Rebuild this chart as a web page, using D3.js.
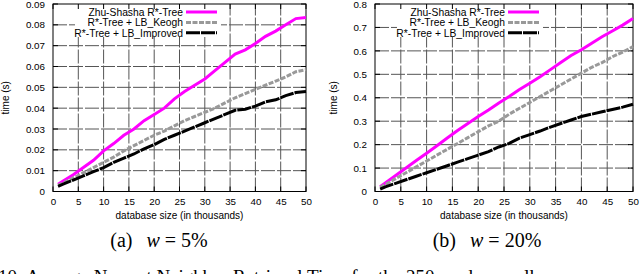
<!DOCTYPE html>
<html>
<head>
<meta charset="utf-8">
<script src="https://cdn.jsdelivr.net/npm/d3@7"></script>
<style>
  body { margin: 0; background: #fff; }
  svg { display: block; }
  text { font-family: "Liberation Sans", Arial, sans-serif; }
</style>
</head>
<body>
<div id="chart"></div>
<script>
// database size in thousands
const sizes = [1, 2, 4, 6, 8, 10, 12, 14, 16, 18, 20, 22, 24, 26, 28, 30, 32, 34, 36, 38, 40, 42, 44, 46, 48, 50];

// (a) w = 5%
const zhuA = [0.0035, 0.005, 0.008, 0.0115, 0.015, 0.0195, 0.023, 0.027, 0.030, 0.034, 0.037, 0.040, 0.0445, 0.048, 0.051, 0.054, 0.058, 0.062, 0.066, 0.068, 0.071, 0.0745, 0.077, 0.080, 0.083, 0.0835];
const keoghA = [0.003, 0.004, 0.0065, 0.009, 0.0115, 0.014, 0.0165, 0.0195, 0.022, 0.0245, 0.027, 0.029, 0.0315, 0.034, 0.036, 0.038, 0.040, 0.0425, 0.045, 0.047, 0.049, 0.051, 0.053, 0.055, 0.0575, 0.0585];
const improvedA = [0.0025, 0.0035, 0.0055, 0.0075, 0.0095, 0.0115, 0.014, 0.016, 0.018, 0.0205, 0.0225, 0.025, 0.027, 0.029, 0.031, 0.033, 0.035, 0.037, 0.039, 0.0395, 0.041, 0.043, 0.044, 0.046, 0.0475, 0.048];

// (b) w = 20%
const zhuB = [0.02, 0.036, 0.068, 0.10, 0.132, 0.163, 0.195, 0.228, 0.26, 0.29, 0.32, 0.348, 0.378, 0.405, 0.435, 0.462, 0.49, 0.52, 0.55, 0.58, 0.605, 0.633, 0.66, 0.685, 0.71, 0.738];
const keoghB = [0.018, 0.03, 0.055, 0.08, 0.105, 0.13, 0.155, 0.18, 0.205, 0.23, 0.255, 0.28, 0.30, 0.33, 0.355, 0.38, 0.405, 0.43, 0.455, 0.48, 0.505, 0.53, 0.55, 0.575, 0.595, 0.618];
const improvedB = [0.01, 0.02, 0.035, 0.05, 0.065, 0.08, 0.095, 0.11, 0.125, 0.14, 0.155, 0.17, 0.19, 0.205, 0.228, 0.243, 0.258, 0.275, 0.29, 0.305, 0.32, 0.33, 0.34, 0.35, 0.36, 0.372];

const seriesNames = ["Zhu-Shasha R*-Tree", "R*-Tree + LB_Keogh", "R*-Tree + LB_Improved"];
const xTicks = [0, 5, 10, 15, 20, 25, 30, 35, 40, 45, 50];
const yTicksA = [0, 0.01, 0.02, 0.03, 0.04, 0.05, 0.06, 0.07, 0.08, 0.09];
const yTicksB = [0, 0.1, 0.2, 0.3, 0.4, 0.5, 0.6, 0.7, 0.8];

const styles = [
  {color: "#ff00ff", width: 3, dash: null},
  {color: "#999999", width: 3, dash: "5,1.5"},
  {color: "#000000", width: 3, dash: "14,1"}
];

const svg = d3.select("#chart").append("svg")
  .attr("width", 640)
  .attr("height", 274);

const serif = "'Liberation Serif', 'DejaVu Serif', serif";

function drawPanel(opt) {
  const x = d3.scaleLinear().domain([0, 50]).range([opt.x0, opt.x1]);
  const y = d3.scaleLinear().domain([0, opt.ymax]).range([opt.y0, opt.y1]);
  const g = svg.append("g");

  // grid
  g.append("g").selectAll("line").data(xTicks.slice(1, -1)).enter().append("line")
    .attr("x1", d => x(d)).attr("x2", d => x(d))
    .attr("y1", opt.y0).attr("y2", opt.y1)
    .attr("stroke", "#555").attr("stroke-width", 1).attr("stroke-dasharray", "14,2");
  g.append("g").selectAll("line").data(opt.yTicks.slice(1, -1)).enter().append("line")
    .attr("y1", d => y(d)).attr("y2", d => y(d))
    .attr("x1", opt.x0).attr("x2", opt.x1)
    .attr("stroke", "#555").attr("stroke-width", 1).attr("stroke-dasharray", "14,2");

  // legend box hides the grid behind the key
  g.append("rect")
    .attr("x", opt.legendX - 108).attr("y", opt.y1)
    .attr("width", 146).attr("height", 33)
    .attr("fill", "#fff");

  // inward ticks on all four sides
  const tk = 5;
  const ticks = g.append("g").attr("stroke", "#000").attr("stroke-width", 1);
  xTicks.forEach(t => {
    ticks.append("line").attr("x1", x(t)).attr("x2", x(t)).attr("y1", opt.y0).attr("y2", opt.y0 - tk);
    ticks.append("line").attr("x1", x(t)).attr("x2", x(t)).attr("y1", opt.y1).attr("y2", opt.y1 + tk);
  });
  opt.yTicks.forEach(t => {
    ticks.append("line").attr("y1", y(t)).attr("y2", y(t)).attr("x1", opt.x0).attr("x2", opt.x0 + tk);
    ticks.append("line").attr("y1", y(t)).attr("y2", y(t)).attr("x1", opt.x1).attr("x2", opt.x1 - tk);
  });

  // axes (tick labels only, frame drawn separately)
  const xAxis = g.append("g")
    .attr("transform", "translate(0," + opt.y0 + ")")
    .call(d3.axisBottom(x).tickValues(xTicks).tickSize(0).tickPadding(6.5).tickFormat(d3.format("d")));
  const yAxis = g.append("g")
    .attr("transform", "translate(" + opt.x0 + ",0)")
    .call(d3.axisLeft(y).tickValues(opt.yTicks).tickSize(0).tickPadding(8).tickFormat(d => d === 0 ? "0" : d3.format(opt.fmt)(d)));
  [xAxis, yAxis].forEach(a => {
    a.select(".domain").remove();
    a.selectAll("text").attr("font-size", 9.8).attr("fill", "#000")
      .attr("font-family", "Liberation Sans, Arial, sans-serif");
  });

  // frame
  g.append("rect")
    .attr("x", opt.x0).attr("y", opt.y1)
    .attr("width", opt.x1 - opt.x0).attr("height", opt.y0 - opt.y1)
    .attr("fill", "none").attr("stroke", "#000").attr("stroke-width", 1);

  // lines
  const line = d3.line().x((d, i) => x(sizes[i])).y(d => y(d));
  opt.series.forEach((s, k) => {
    g.append("path").datum(s)
      .attr("d", line)
      .attr("fill", "none")
      .attr("stroke", styles[k].color)
      .attr("stroke-width", styles[k].width)
      .attr("stroke-dasharray", styles[k].dash);
  });

  // legend
  seriesNames.forEach((name, k) => {
    const ly = opt.legendY + k * 10.4;
    g.append("text")
      .attr("x", opt.legendX).attr("y", ly + 3.7)
      .attr("text-anchor", "end").attr("font-size", 10.3)
      .text(name);
    g.append("line")
      .attr("x1", opt.legendX + 3).attr("x2", opt.legendX + 34)
      .attr("y1", ly).attr("y2", ly)
      .attr("stroke", styles[k].color)
      .attr("stroke-width", styles[k].width)
      .attr("stroke-dasharray", styles[k].dash);
  });

  // axis titles
  g.append("text")
    .attr("transform", "translate(" + opt.ylabX + "," + ((opt.y0 + opt.y1) / 2) + ") rotate(-90)")
    .attr("text-anchor", "middle").attr("font-size", 10)
    .text("time (s)");
  g.append("text")
    .attr("x", (opt.x0 + opt.x1) / 2).attr("y", 219)
    .attr("text-anchor", "middle").attr("font-size", 10)
    .text("database size (in thousands)");

  // subcaption
  const cap = g.append("text")
    .attr("x", opt.capX).attr("y", 246.5)
    .attr("text-anchor", "middle")
    .attr("font-size", 20)
    .style("font-family", serif)
    .style("white-space", "pre");
  cap.append("tspan").text("(" + opt.tag + ")");
  cap.append("tspan").attr("dx", 14).attr("font-style", "italic").text("w");
  cap.append("tspan").attr("dx", 5).text("=");
  cap.append("tspan").attr("dx", 5).text(opt.w);
}

drawPanel({
  x0: 53, x1: 306, y0: 191.5, y1: 4, ymax: 0.09,
  yTicks: yTicksA, fmt: ".2f",
  series: [zhuA, keoghA, improvedA],
  legendX: 183, legendY: 12,
  ylabX: 9, capX: 159, tag: "a", w: "5%"
});

drawPanel({
  x0: 375, x1: 633, y0: 191.5, y1: 4, ymax: 0.8,
  yTicks: yTicksB, fmt: ".1f",
  series: [zhuB, keoghB, improvedB],
  legendX: 505, legendY: 12,
  ylabX: 337, capX: 487, tag: "b", w: "20%"
});

// figure caption, cut off at the bottom edge as in the source page
svg.append("text")
  .attr("x", -2).attr("y", 282.5)
  .attr("font-size", 19)
  .style("font-family", serif)
  .text("10: Average Nearest Neighbor Retrieval Time for the 250 random walk");
</script>
</body>
</html>
